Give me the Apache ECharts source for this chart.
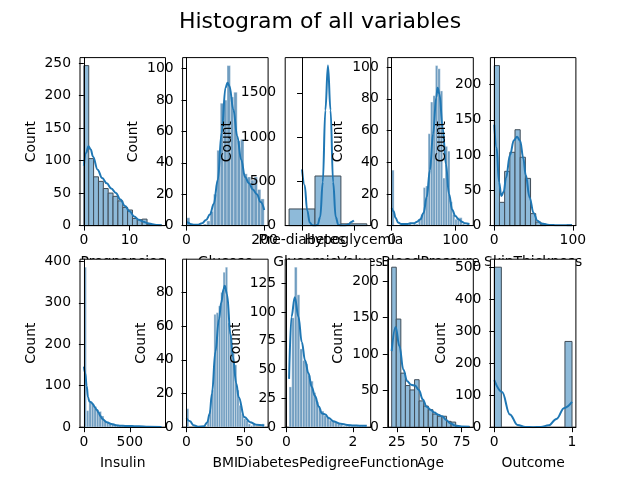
<!DOCTYPE html>
<html>
<head>
<meta charset="utf-8">
<script src="https://cdn.jsdelivr.net/npm/echarts@6/dist/echarts.min.js"></script>
<style>
  html, body { margin: 0; padding: 0; background: #fff; }
  #chart { width: 640px; height: 480px; }
</style>
</head>
<body>
<div id="chart"></div>
<script>
// bins split [min, max] of each variable evenly, counts
const pregnanciesRange = [0, 17];
const pregnanciesCounts = [246, 103, 75, 68, 57, 50, 45, 38, 28, 24, 11, 9, 10, 2, 1, 1];
const pregnanciesKdeX = [0, 0.5, 1, 1.5, 2, 3, 4, 5, 6, 7, 8, 9, 10, 11, 12, 13, 14, 15, 16, 17];
const pregnanciesKdeY = [92, 112, 122, 117, 106, 86, 73, 65, 57, 50, 40, 30, 22, 14, 9, 6, 3.5, 2, 1, 0.5];

const glucoseRange = [0, 199];
const glucoseCounts = [5, 0, 0, 0, 0, 1, 3, 9, 20, 48, 78, 80, 102, 82, 85, 54, 55, 33, 31, 29, 31, 23, 17];
const glucoseKdeX = [0, 5, 10, 20, 30, 40, 50, 60, 70, 80, 90, 100, 105, 110, 120, 130, 140, 150, 160, 170, 180, 190, 199];
const glucoseKdeY = [2.5, 1.8, 1, 0.5, 0.6, 1.5, 3.6, 7, 14, 29, 59, 88, 91, 89, 74, 57, 42, 31, 27, 23, 20, 15, 10];

const glycemicCategories = ['Pre-diabetes', 'Normal', 'Hypoglycemia'];
const glycemicRange = [-0.5, 2.5];
const glycemicCounts = [188, 560, 20];
const glycemicKdeX = [0, 0.1, 0.2, 0.3, 0.4, 0.5, 0.6, 0.7, 0.8, 0.9, 1, 1.1, 1.2, 1.3, 1.4, 1.5, 1.6, 1.7, 1.8, 1.9, 2];
const glycemicKdeY = [634, 457, 171, 34, 4, 0, 10, 96, 489, 1303, 1807, 1303, 489, 96, 10, 0, 0.3, 3, 16, 42, 58];

const bloodPressureRange = [0, 122];
const bloodPressureCounts = [35, 0, 0, 0, 0, 0, 1, 2, 0, 1, 1, 4, 7, 24, 25, 58, 78, 82, 101, 99, 85, 30, 50, 47, 15, 7, 4, 5, 5, 1, 0, 1];
const bloodPressureKdeX = [0, 3, 6, 10, 15, 20, 25, 30, 35, 40, 45, 50, 55, 60, 65, 70, 72, 75, 80, 85, 90, 95, 100, 105, 110, 115, 122];
const bloodPressureKdeY = [11, 9, 5, 2, 1, 1, 1, 1.5, 1.5, 2.5, 4, 8, 18, 35, 58, 81, 87, 83, 62, 39, 20, 10, 6, 4, 2.5, 1.5, 1];

const skinRange = [0, 99];
const skinCounts = [227, 33, 77, 104, 136, 97, 67, 17, 5, 2, 0, 0, 0, 0, 1];
const skinKdeX = [0, 3, 6, 9, 12, 15, 20, 25, 29, 33, 37, 40, 45, 50, 55, 60, 70, 80, 90, 99];
const skinKdeY = [143, 110, 62, 42, 48, 68, 100, 121, 126, 120, 95, 72, 40, 18, 7, 3, 1, 0.5, 0.4, 0.5];

const insulinRange = [0, 846];
const insulinCounts = [386, 40, 61, 58, 50, 42, 38, 27, 16, 12, 9, 8, 5, 4, 3, 3, 5, 4, 3, 2, 1, 1, 1, 0, 0, 1, 0, 0, 0, 0, 1];
const insulinKdeX = [0, 15, 30, 45, 60, 80, 100, 120, 140, 160, 180, 200, 250, 300, 350, 400, 450, 500, 550, 600, 700, 846];
const insulinKdeY = [146, 130, 100, 72, 62, 60, 55, 48, 42, 35, 27, 20, 12, 8, 5, 3.5, 3, 3, 2.5, 2, 1, 0.5];

const bmiRange = [0, 67.1];
const bmiCounts = [11, 0, 0, 0, 0, 0, 0, 0, 0, 4, 10, 22, 67, 68, 72, 80, 92, 95, 62, 55, 45, 37, 22, 13, 8, 5, 4, 2, 1, 2, 0, 0, 0, 2];
const bmiKdeX = [0, 3, 6, 10, 15, 18, 20, 22, 25, 28, 30, 32, 33, 35, 38, 40, 43, 45, 50, 55, 60, 67.1];
const bmiKdeY = [5.3, 3.5, 1.2, 0.3, 0.5, 3, 8, 20, 45, 64, 74, 82, 84, 79, 55, 42, 26, 18, 6, 3, 1.5, 1];

const pedigreeRange = [0.078, 2.42];
const pedigreeCounts = [35, 95, 139, 115, 68, 58, 55, 45, 40, 30, 22, 16, 14, 10, 9, 6, 6, 4, 3, 2, 1, 1, 2, 1, 0, 1, 1, 1, 1];
const pedigreeKdeX = [0.078, 0.15, 0.25, 0.36, 0.46, 0.56, 0.66, 0.76, 0.86, 0.97, 1.07, 1.17, 1.27, 1.42, 1.63, 1.83, 2.03, 2.2, 2.42];
const pedigreeKdeY = [42, 96, 113, 96, 74, 58, 47, 35, 27, 18, 12, 11, 8, 5, 3, 2, 1.5, 1.3, 1.2];

const ageRange = [21, 81];
const ageCounts = [219, 148, 74, 57, 51, 65, 36, 29, 24, 18, 15, 15, 8, 7, 1, 0, 1];
const ageKdeX = [21, 24, 27, 30, 33, 36, 39, 42, 45, 48, 51, 54, 57, 60, 63, 66, 70, 75, 81];
const ageKdeY = [104, 137, 111, 79, 63, 58, 57, 51, 38, 28, 24, 20, 17, 15, 10, 5.5, 2.3, 1, 0.5];

const outcomeRange = [0, 1];
const outcomeCounts = [500, 0, 0, 0, 0, 0, 0, 0, 0, 0, 268];
const outcomeKdeX = [0, 0.1, 0.2, 0.3, 0.4, 0.5, 0.6, 0.7, 0.8, 0.9, 1];
const outcomeKdeY = [147, 110, 40, 7, 0.5, 0.2, 0.5, 6, 26, 60, 79];

// tick labels
const pregnanciesXTicks = [0, 10], pregnanciesYTicks = [0, 50, 100, 150, 200, 250];
const glucoseXTicks = [0, 200], glucoseYTicks = [0, 20, 40, 60, 80, 100];
const glycemicXTicks = [0, 1, 2], glycemicYTicks = [0, 500, 1000, 1500];
const bloodPressureXTicks = [0, 100], bloodPressureYTicks = [0, 20, 40, 60, 80, 100];
const skinXTicks = [0, 100], skinYTicks = [0, 50, 100, 150, 200];
const insulinXTicks = [0, 500], insulinYTicks = [0, 100, 200, 300, 400];
const bmiXTicks = [0, 50], bmiYTicks = [0, 20, 40, 60, 80];
const pedigreeXTicks = [0, 2], pedigreeYTicks = [0, 25, 50, 75, 100, 125];
const ageXTicks = [25, 50, 75], ageYTicks = [0, 50, 100, 150, 200];
const outcomeXTicks = [0, 1], outcomeYTicks = [0, 100, 200, 300, 400, 500];

const plots = [
  { name: 'Pregnancies', range: pregnanciesRange, counts: pregnanciesCounts, kdeX: pregnanciesKdeX, kdeY: pregnanciesKdeY, xTicks: pregnanciesXTicks, yTicks: pregnanciesYTicks, dense: false, gap: 42 },
  { name: 'Glucose', range: glucoseRange, counts: glucoseCounts, kdeX: glucoseKdeX, kdeY: glucoseKdeY, xTicks: glucoseXTicks, yTicks: glucoseYTicks, dense: true, gap: 42 },
  { name: 'GlycemicValues', range: glycemicRange, counts: glycemicCounts, kdeX: glycemicKdeX, kdeY: glycemicKdeY, xTicks: glycemicXTicks, yTicks: glycemicYTicks, dense: false, gap: 51, cats: glycemicCategories },
  { name: 'BloodPressure', range: bloodPressureRange, counts: bloodPressureCounts, kdeX: bloodPressureKdeX, kdeY: bloodPressureKdeY, xTicks: bloodPressureXTicks, yTicks: bloodPressureYTicks, dense: true, gap: 42 },
  { name: 'SkinThickness', range: skinRange, counts: skinCounts, kdeX: skinKdeX, kdeY: skinKdeY, xTicks: skinXTicks, yTicks: skinYTicks, dense: false, gap: 42 },
  { name: 'Insulin', range: insulinRange, counts: insulinCounts, kdeX: insulinKdeX, kdeY: insulinKdeY, xTicks: insulinXTicks, yTicks: insulinYTicks, dense: true, gap: 42 },
  { name: 'BMI', range: bmiRange, counts: bmiCounts, kdeX: bmiKdeX, kdeY: bmiKdeY, xTicks: bmiXTicks, yTicks: bmiYTicks, dense: true, gap: 34 },
  { name: 'DiabetesPedigreeFunction', range: pedigreeRange, counts: pedigreeCounts, kdeX: pedigreeKdeX, kdeY: pedigreeKdeY, xTicks: pedigreeXTicks, yTicks: pedigreeYTicks, dense: true, gap: 42 },
  { name: 'Age', range: ageRange, counts: ageCounts, kdeX: ageKdeX, kdeY: ageKdeY, xTicks: ageXTicks, yTicks: ageYTicks, dense: false, gap: 42 },
  { name: 'Outcome', range: outcomeRange, counts: outcomeCounts, kdeX: outcomeKdeX, kdeY: outcomeKdeY, xTicks: outcomeXTicks, yTicks: outcomeYTicks, dense: false, gap: 42 }
];

const FONT = 'DejaVu Sans';
const FS = 13.9;
const colLeft = [80, 182.6, 285.2, 387.8, 490.4];
const rowTop = [57.6, 259.2];
const W = 85.5, H = 168;

function renderBar(params, api) {
  const count = api.value(2);
  if (!count) return null;
  const p0 = api.coord([api.value(0), count]);
  const p1 = api.coord([api.value(1), 0]);
  return {
    type: 'rect',
    shape: { x: p0[0], y: p0[1], width: p1[0] - p0[0], height: p1[1] - p0[1] },
    style: api.style()
  };
}

const grid = [], xAxis = [], yAxis = [], series = [];

plots.forEach((p, k) => {
  const base = k * 10;
  // the lower row sits on its own layer so its white plot areas hide the upper row's x labels
  const zl = k < 5 ? 0 : 1;
  const lo = p.range[0], hi = p.range[1], span = hi - lo;
  const bw = span / p.counts.length;
  const ymax = Math.max(...p.counts, ...p.kdeY) * 1.05;

  grid.push({
    left: colLeft[k % 5], top: rowTop[Math.floor(k / 5)], width: W, height: H,
    show: true, backgroundColor: '#fff', borderColor: '#000', borderWidth: 1, z: base, zlevel: zl
  });

  xAxis.push({
    gridIndex: k, type: 'value', min: lo - 0.05 * span, max: hi + 0.05 * span, z: base + 3, zlevel: zl,
    name: p.name, nameLocation: 'middle', nameGap: k < 5 ? 30 : 29,
    nameTextStyle: { color: '#000', fontSize: FS, fontFamily: FONT },
    axisLine: { show: true, onZero: false, lineStyle: { color: '#000', width: 1 } },
    axisTick: { show: true, customValues: p.xTicks, length: 5, lineStyle: { color: '#000', width: 1 } },
    axisLabel: {
      customValues: p.xTicks, margin: 8, color: '#000', fontSize: FS, fontFamily: FONT,
      hideOverlap: false, showMinLabel: true, showMaxLabel: true,
      formatter: p.cats ? (v) => p.cats[Math.round(v)] : (v) => String(v)
    },
    splitLine: { show: false }
  });

  yAxis.push({
    gridIndex: k, type: 'value', min: 0, max: ymax, z: base + 3, zlevel: zl,
    name: 'Count', nameLocation: 'middle', nameGap: p.gap,
    nameTextStyle: { color: '#000', fontSize: FS, fontFamily: FONT },
    axisLine: { show: true, lineStyle: { color: '#000', width: 1 } },
    axisTick: { show: true, customValues: p.yTicks, length: 5, lineStyle: { color: '#000', width: 1 } },
    axisLabel: {
      customValues: p.yTicks, margin: 9, color: '#000', fontSize: FS, fontFamily: FONT,
      formatter: (v) => String(v)
    },
    splitLine: { show: false }
  });

  series.push({
    type: 'custom', xAxisIndex: k, yAxisIndex: k, z: base + 1, zlevel: zl,
    renderItem: renderBar,
    encode: { x: [0, 1], y: 2 },
    itemStyle: p.dense
      ? { color: '#709dc0', borderColor: 'rgba(255,255,255,0.55)', borderWidth: 0.6 }
      : { color: '#8ebad9', borderColor: '#3f4c57', borderWidth: 1 },
    data: p.counts.map((c, i) => [lo + i * bw, lo + (i + 1) * bw, c])
  });

  series.push({
    type: 'line', xAxisIndex: k, yAxisIndex: k, z: base + 2, zlevel: zl,
    smooth: 0.4, smoothMonotone: 'x', showSymbol: false, silent: true,
    lineStyle: { color: '#1f77b4', width: 2 },
    data: p.kdeX.map((x, i) => [x, p.kdeY[i]])
  });
});

const chart = echarts.init(document.getElementById('chart'));
chart.setOption({
  animation: false,
  backgroundColor: '#fff',
  title: {
    text: 'Histogram of all variables', left: 'center', top: 6,
    textStyle: { color: '#000', fontSize: 22, fontWeight: 'normal', fontFamily: FONT }
  },
  grid, xAxis, yAxis, series
});
</script>
</body>
</html>
